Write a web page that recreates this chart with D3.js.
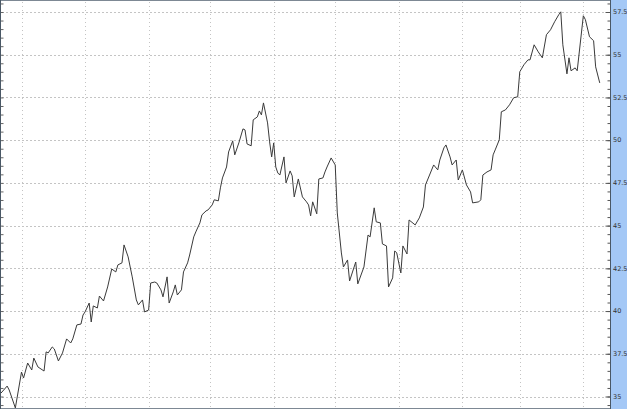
<!DOCTYPE html>
<html>
<head>
<meta charset="utf-8">
<script src="https://cdn.jsdelivr.net/npm/d3@7"></script>
<style>
  body { margin: 0; background: #fff; }
  svg { display: block; }
</style>
</head>
<body>
<div id="drawing_region"></div>
<script>
// days since 2006-06-21 and closing values
var startDate = new Date(2006, 5, 21);
var days = [0,3,4,7,10,11,13,15,16,18,21,22,23,25,26,28,30,32,34,35,37,39,40,41,43,44,45,47,48,50,
  52,54,56,57,59,60,62,63,64,66,67,69,70,72,73,75,76,78,79,81,82,84,85,86,88,89,91,92,94,95,
  97,98,100,101,103,104,106,107,108,110,111,113,114,116,118,119,120,122,123,125,126,127,128,130,131,132,133,134,135,136,
  138,139,141,142,143,145,147,149,150,151,152,154,155,157,158,159,161,163,164,166,167,169,170,173,174,177,179,180,182,183,
  185,186,188,189,191,192,193,195,196,198,199,202,204,206,207,209,211,213,214,216,217,219,220,222,223,225,227,229,230,233,
  234,235,237,239,240,241,243,244,246,248,250,252,253,255,257,258,260,262,264,266,268,270,272,273,274,276,277,278,280,281,
  284,285,287,289,290,292];
var values = [35.20,35.61,35.38,34.33,36.43,36.08,36.96,36.55,37.25,36.73,36.49,37.61,37.55,37.90,37.78,37.08,37.55,38.37,38.13,38.37,
  39.19,39.24,39.77,39.95,40.47,39.36,40.30,40.18,40.88,40.59,
  41.41,42.46,42.29,42.70,42.82,43.87,43.17,42.58,42.00,40.65,40.36,40.65,39.95,40.06,41.64,41.70,41.64,41.24,40.83,42.00,
  40.47,41.12,41.53,40.94,41.24,42.29,42.82,43.28,44.34,44.63,
  45.16,45.63,45.86,45.92,46.21,46.51,46.45,47.21,47.79,48.43,49.31,49.96,49.14,49.84,50.66,50.60,49.78,49.67,51.19,51.36,
  51.71,51.48,52.18,51.01,49.90,49.02,49.84,48.43,48.08,47.96,
  49.02,47.50,48.20,47.91,46.68,47.73,46.68,46.39,46.21,45.57,46.39,45.69,47.73,47.79,48.14,48.43,48.96,48.55,45.74,43.40,
  42.58,42.99,41.76,42.87,41.59,42.58,44.45,44.34,46.04,45.22,
  45.16,43.93,43.81,41.41,41.94,43.52,43.40,42.23,43.81,43.34,45.33,45.04,45.45,46.09,47.38,47.96,48.55,48.26,48.84,49.55,
  49.72,49.02,48.55,48.84,47.67,48.26,47.38,46.97,46.33,46.39,
  46.51,47.96,48.14,48.26,49.14,49.43,50.02,51.66,51.77,52.07,52.48,52.54,54.00,54.41,54.70,54.70,55.58,55.17,54.82,56.17,
  56.46,56.93,57.34,57.51,55.58,53.88,54.82,54.06,54.23,54.06,
  57.28,57.05,56.05,55.82,54.29,53.35];
var yTicks = [35, 37.5, 40, 42.5, 45, 47.5, 50, 52.5, 55, 57.5];
var monthLines = ["2006-07-01","2006-08-01","2006-09-01","2006-10-01","2006-11-01","2006-12-01",
  "2007-01-01","2007-02-01","2007-03-01","2007-04-01"];

var data = days.map(function (d, i) {
  return { date: d3.timeDay.offset(startDate, d), value: values[i] };
});

var width = 627, height = 409;
var plotRight = 610;

var svg = d3.select("#drawing_region")
  .append("svg")
  .attr("width", width)
  .attr("height", height);

// right hand label strip
svg.append("rect")
  .attr("x", plotRight).attr("y", 0)
  .attr("width", width - plotRight).attr("height", height)
  .attr("fill", "#a4c8f6");

var xScale = d3.scaleTime()
  .domain([new Date(2006, 5, 21), new Date(2007, 3, 14)])
  .range([1, plotRight]);

var yScale = d3.scaleLinear()
  .domain([35, 57.5])
  .range([396.5, 12]);

// grid
var grid = svg.append("g");
grid.selectAll(".hgrid")
  .data(yTicks)
  .enter()
  .append("line")
  .attr("x1", 2).attr("x2", plotRight - 4)
  .attr("y1", function (d) { return Math.round(yScale(d)) + 0.5; })
  .attr("y2", function (d) { return Math.round(yScale(d)) + 0.5; })
  .attr("stroke", "#c4c4c4")
  .attr("stroke-dasharray", "2,2");

grid.selectAll(".vgrid")
  .data(monthLines)
  .enter()
  .append("line")
  .attr("x1", function (d) { return Math.round(xScale(new Date(d + "T00:00"))) + 0.5; })
  .attr("x2", function (d) { return Math.round(xScale(new Date(d + "T00:00"))) + 0.5; })
  .attr("y1", 2).attr("y2", height - 2)
  .attr("stroke", "#c4c4c4")
  .attr("stroke-dasharray", "1,3");

// price line
var line = d3.line()
  .x(function (d) { return xScale(d.date); })
  .y(function (d) { return yScale(d.value); });

svg.append("path")
  .datum(data)
  .attr("fill", "none")
  .attr("stroke", "#3a3a3a")
  .attr("stroke-width", 1)
  .attr("d", line);

// right axis, ticks pointing inwards
var minorTicks = d3.range(34.5, 58.01, 0.5);
var rightAxis = d3.axisLeft(yScale)
  .tickValues(minorTicks)
  .tickSize(3)
  .tickFormat("");
svg.append("g")
  .attr("transform", "translate(" + (plotRight + 0.5) + ",0)")
  .call(rightAxis)
  .call(function (g) {
    g.select(".domain").remove();
    g.selectAll("line").attr("stroke", "#555");
  });

svg.append("g")
  .attr("transform", "translate(" + (plotRight + 0.5) + ",0)")
  .call(d3.axisLeft(yScale).tickValues(yTicks).tickSize(5).tickFormat(""))
  .call(function (g) {
    g.select(".domain").remove();
    g.selectAll("line").attr("stroke", "#555");
  });

svg.append("g")
  .selectAll("text")
  .data(yTicks)
  .enter()
  .append("text")
  .attr("x", plotRight + 3)
  .attr("y", function (d) { return yScale(d); })
  .attr("dy", "0.35em")
  .attr("font-family", "DejaVu Sans, sans-serif")
  .attr("font-size", 6.5)
  .attr("fill", "#333")
  .text(function (d) { return d; });

// left axis minor ticks
svg.append("g")
  .attr("transform", "translate(0.5,0)")
  .call(d3.axisRight(yScale).tickValues(minorTicks).tickSize(3).tickFormat(""))
  .call(function (g) {
    g.select(".domain").remove();
    g.selectAll("line").attr("stroke", "#666");
  });

// frame
svg.append("line").attr("x1", 0).attr("x2", plotRight).attr("y1", 0.5).attr("y2", 0.5)
  .attr("stroke", "#7d8894");
svg.append("line").attr("x1", 0).attr("x2", plotRight).attr("y1", height - 0.5).attr("y2", height - 0.5)
  .attr("stroke", "#7d8894");
svg.append("line").attr("x1", 0.5).attr("x2", 0.5).attr("y1", 0).attr("y2", height)
  .attr("stroke", "#4a5866").attr("stroke-width", 1);
svg.append("line").attr("x1", plotRight + 0.5).attr("x2", plotRight + 0.5).attr("y1", 0).attr("y2", height)
  .attr("stroke", "#4a5866");
</script>
</body>
</html>
